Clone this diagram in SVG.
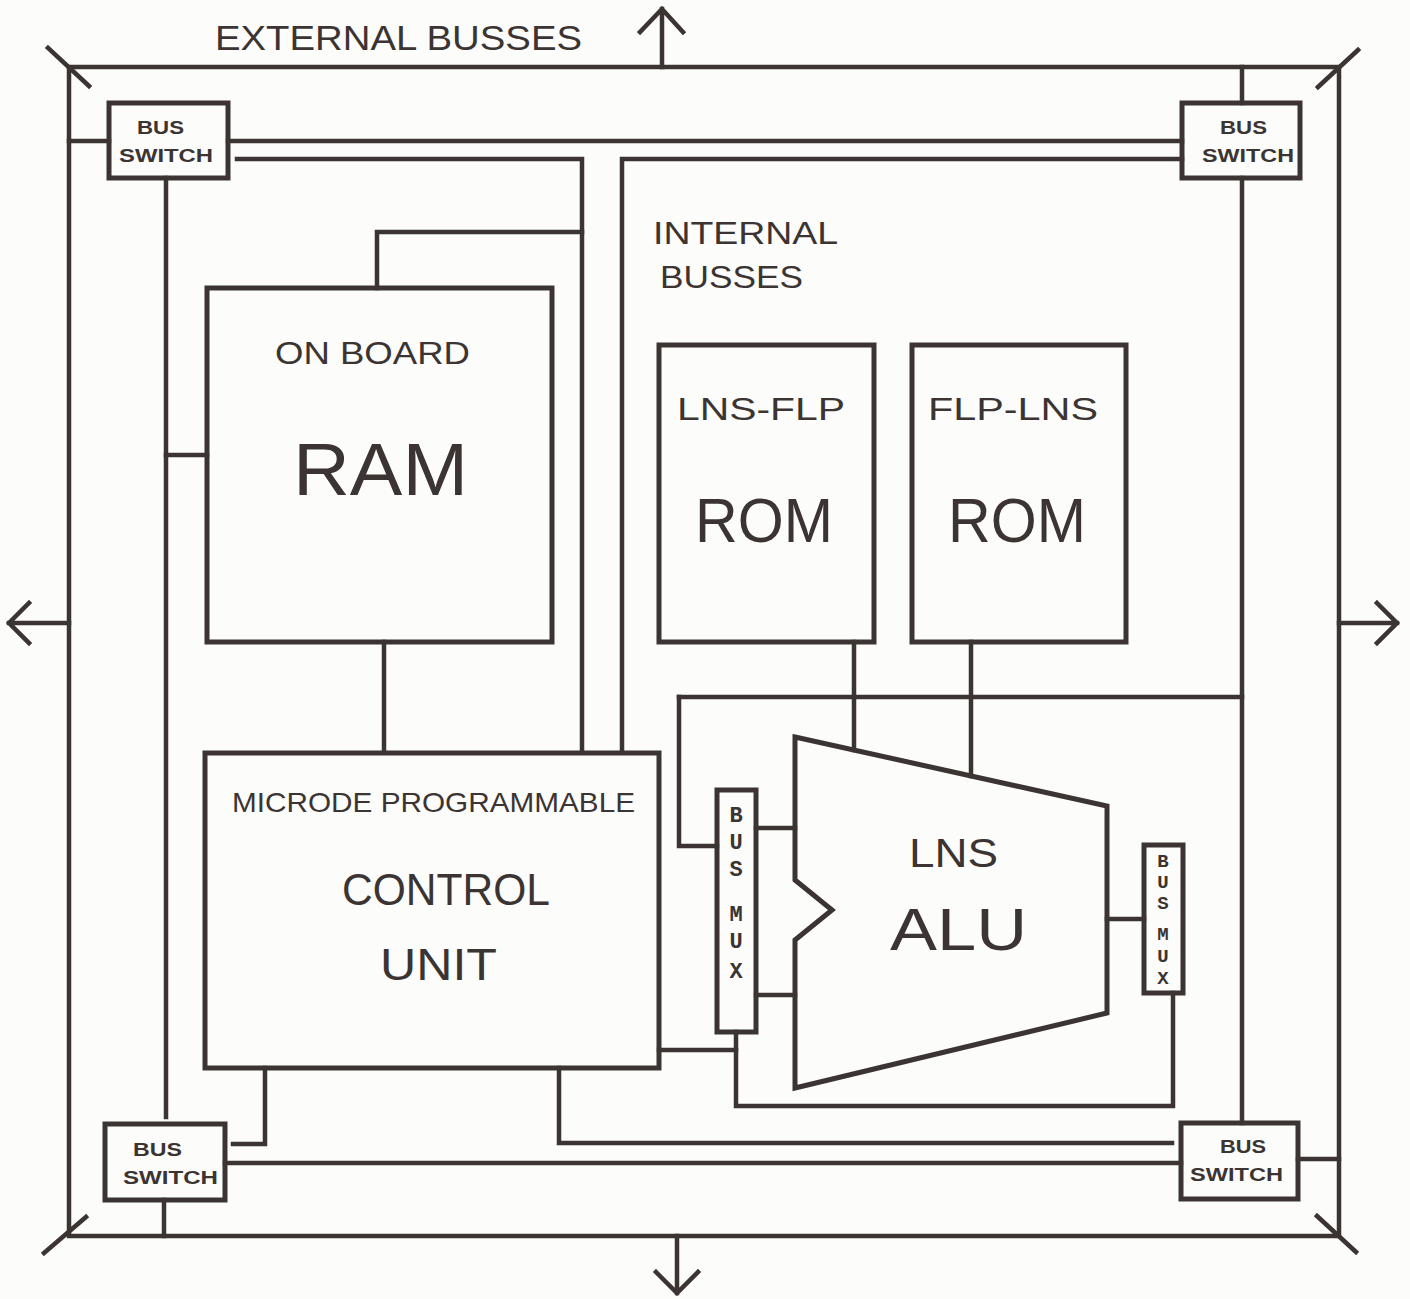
<svg xmlns="http://www.w3.org/2000/svg" width="1410" height="1299" viewBox="0 0 1410 1299">
<style>
.ln{fill:none;stroke:#3b3432;stroke-width:4.5;stroke-linecap:square;stroke-linejoin:miter}
.bx{fill:none;stroke:#3b3432;stroke-width:5}
.t{font-family:"Liberation Sans",Arial,sans-serif;fill:#3b3432}
.sw{font-family:"Liberation Sans",Arial,sans-serif;fill:#3b3432;font-weight:bold;font-size:19px}
.mx{font-family:"Liberation Mono","Courier New",monospace;fill:#3b3432;font-weight:bold;font-size:22px;text-anchor:middle}
</style>
<rect width="1410" height="1299" fill="#fcfcfa"/>
<g id="connectors">
  <!-- outer frame -->
  <path class="ln" d="M69,67 H1339 V1236 H69 Z"/>
  <!-- corner ticks -->
  <path class="ln" d="M48,48 L89,86 M1318,87 L1358,50 M86,1217 L44,1253 M1317,1216 L1356,1252"/>
  <!-- arrows -->
  <path class="ln" d="M662,67 V9 M640,32 L662,9 L683,32"/>
  <path class="ln" d="M69,623 H9 M29,603 L9,623 L29,643"/>
  <path class="ln" d="M1339,623 H1397 M1377,603 L1397,623 L1377,643"/>
  <path class="ln" d="M677,1236 V1293 M656,1272 L677,1293 L698,1272"/>
  <!-- switch connections -->
  <path class="ln" d="M69,141 H109"/>
  <path class="ln" d="M228,141 H1182"/>
  <path class="ln" d="M237,159 H582 V752"/>
  <path class="ln" d="M166,178 V1117"/>
  <path class="ln" d="M166,455 H207"/>
  <path class="ln" d="M1242,67 V103"/>
  <path class="ln" d="M1242,178 V1123"/>
  <path class="ln" d="M1182,159 H622 V752"/>
  <path class="ln" d="M679,697 H1242"/>
  <!-- RAM -->
  <path class="ln" d="M377,288 V232 H582"/>
  <path class="ln" d="M384,642 V752"/>
  <!-- ROMs to ALU -->
  <path class="ln" d="M854,642 V750"/>
  <path class="ln" d="M971,642 V776"/>
  <!-- ALU area -->
  <path class="ln" d="M679,697 V846 H717"/>
  <path class="ln" d="M756,828 H795"/>
  <path class="ln" d="M756,995 H795"/>
  <path class="ln" d="M1107,919 H1144"/>
  <path class="ln" d="M659,1050 H736"/>
  <path class="ln" d="M736,1032 V1106 H1173 V993"/>
  <!-- lower busses -->
  <path class="ln" d="M559,1068 V1143 H1172"/>
  <path class="ln" d="M265,1068 V1144 H233"/>
  <path class="ln" d="M225,1163 H1181"/>
  <path class="ln" d="M164,1200 V1236"/>
  <path class="ln" d="M1298,1159 H1339"/>
</g>
<text class="t" x="215" y="50" font-size="35" textLength="367" lengthAdjust="spacingAndGlyphs">EXTERNAL  BUSSES</text>
<text class="t" x="653" y="244" font-size="31" textLength="185" lengthAdjust="spacingAndGlyphs">INTERNAL</text>
<text class="t" x="660" y="288" font-size="31" textLength="143" lengthAdjust="spacingAndGlyphs">BUSSES</text>
<g id="bus-switch-tl">
  <rect class="bx" x="109" y="103" width="119" height="75"/>
  <text class="sw" x="137" y="134" textLength="47" lengthAdjust="spacingAndGlyphs">BUS</text>
  <text class="sw" x="119" y="162" textLength="94" lengthAdjust="spacingAndGlyphs">SWITCH</text>
</g>
<g id="bus-switch-tr">
  <rect class="bx" x="1182" y="103" width="118" height="75"/>
  <text class="sw" x="1220" y="134" textLength="47" lengthAdjust="spacingAndGlyphs">BUS</text>
  <text class="sw" x="1202" y="162" textLength="92" lengthAdjust="spacingAndGlyphs">SWITCH</text>
</g>
<g id="bus-switch-bl">
  <rect class="bx" x="105" y="1124" width="120" height="76"/>
  <text class="sw" x="133" y="1156" textLength="49" lengthAdjust="spacingAndGlyphs">BUS</text>
  <text class="sw" x="123" y="1184" textLength="95" lengthAdjust="spacingAndGlyphs">SWITCH</text>
</g>
<g id="bus-switch-br">
  <rect class="bx" x="1181" y="1123" width="117" height="76"/>
  <text class="sw" x="1220" y="1153" textLength="46" lengthAdjust="spacingAndGlyphs">BUS</text>
  <text class="sw" x="1190" y="1181" textLength="93" lengthAdjust="spacingAndGlyphs">SWITCH</text>
</g>
<g id="ram">
  <rect class="bx" x="207" y="288" width="345" height="354"/>
  <text class="t" x="275" y="364" font-size="31" textLength="195" lengthAdjust="spacingAndGlyphs">ON BOARD</text>
  <text class="t" x="293" y="495" font-size="74" textLength="175" lengthAdjust="spacingAndGlyphs">RAM</text>
</g>
<g id="rom-lns-flp">
  <rect class="bx" x="659" y="345" width="215" height="297"/>
  <text class="t" x="677" y="420" font-size="31" textLength="168" lengthAdjust="spacingAndGlyphs">LNS-FLP</text>
  <text class="t" x="695" y="542" font-size="63" textLength="138" lengthAdjust="spacingAndGlyphs">ROM</text>
</g>
<g id="rom-flp-lns">
  <rect class="bx" x="912" y="345" width="214" height="297"/>
  <text class="t" x="928" y="420" font-size="31" textLength="170" lengthAdjust="spacingAndGlyphs">FLP-LNS</text>
  <text class="t" x="948" y="542" font-size="63" textLength="138" lengthAdjust="spacingAndGlyphs">ROM</text>
</g>
<g id="control-unit">
  <rect class="bx" x="205" y="753" width="454" height="315"/>
  <text class="t" x="232" y="812" font-size="28" textLength="403" lengthAdjust="spacingAndGlyphs">MICRODE  PROGRAMMABLE</text>
  <text class="t" x="342" y="905" font-size="44" textLength="208" lengthAdjust="spacingAndGlyphs">CONTROL</text>
  <text class="t" x="380" y="980" font-size="44" textLength="117" lengthAdjust="spacingAndGlyphs">UNIT</text>
</g>
<g id="bus-mux-left">
  <rect class="bx" x="717" y="790" width="39" height="242"/>
  <text class="mx" x="736" y="822">B</text>
  <text class="mx" x="736" y="849">U</text>
  <text class="mx" x="736" y="876">S</text>
  <text class="mx" x="736" y="921">M</text>
  <text class="mx" x="736" y="948">U</text>
  <text class="mx" x="736" y="978">X</text>
</g>
<g id="lns-alu">
  <path class="bx" d="M795,737 L1107,806 L1107,1013 L795,1088 L795,940 L832,910 L795,880 Z"/>
  <text class="t" x="909" y="867" font-size="40" textLength="89" lengthAdjust="spacingAndGlyphs">LNS</text>
  <text class="t" x="890" y="950" font-size="59" textLength="137" lengthAdjust="spacingAndGlyphs">ALU</text>
</g>
<g id="bus-mux-right">
  <rect class="bx" x="1144" y="845" width="39" height="148"/>
  <text class="mx" x="1163" y="867" font-size="19px" style="font-size:19px">B</text>
  <text class="mx" x="1163" y="888" style="font-size:19px">U</text>
  <text class="mx" x="1163" y="909" style="font-size:19px">S</text>
  <text class="mx" x="1163" y="940" style="font-size:19px">M</text>
  <text class="mx" x="1163" y="962" style="font-size:19px">U</text>
  <text class="mx" x="1163" y="984" style="font-size:19px">X</text>
</g>
</svg>
